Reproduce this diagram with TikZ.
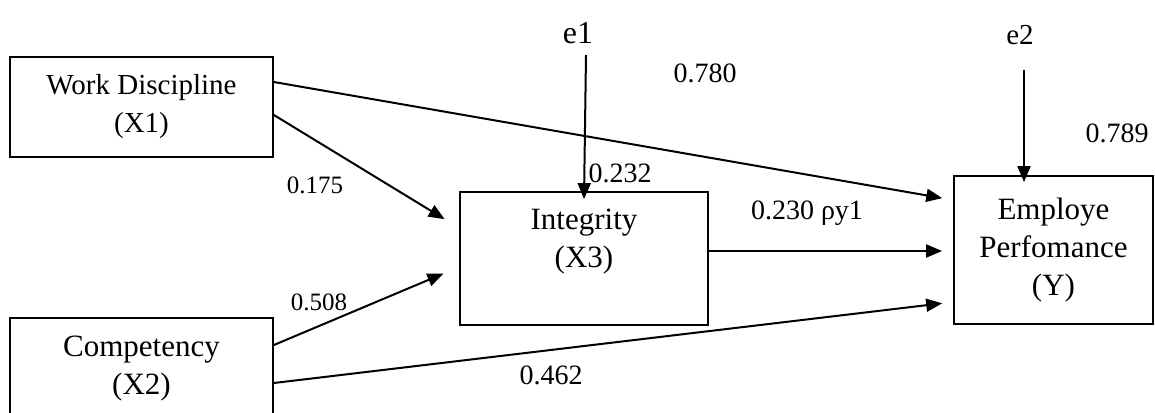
\documentclass[tikz,border=0pt]{standalone}
\usepackage{fontspec}
\setmainfont{Liberation Serif}
\usetikzlibrary{arrows.meta, positioning, calc}

\begin{document}
\begin{tikzpicture}[
  x=0.5pt, y=-0.5pt,
  box/.style={rectangle, draw, line width=0.9pt, align=center, inner sep=0pt,
              font=\fontsize{15.5}{19}\selectfont},
  arr/.style={-{Triangle[length=8pt, width=6.5pt]}, line width=1pt},
  coef/.style={inner sep=0pt, font=\fontsize{14}{17}\selectfont},
  coefsm/.style={inner sep=0pt, font=\fontsize{12.5}{15}\selectfont}
]
  \useasboundingbox (0,0) rectangle (1155,412);

  % variables
  \node[box, minimum width=131.5pt, minimum height=50pt,
        font=\fontsize{14.5}{19}\selectfont] (x1) at (141.5,107) {Work Discipline\\(X1)};
  \node[box, minimum width=131.5pt, minimum height=50.5pt] (x2) at (141.5,368.5) {Competency\\(X2)};
  \node[box, minimum width=124pt, minimum height=66.5pt] (int) at (584,258.5) {};
  \node[inner sep=0pt, align=center, font=\fontsize{15.5}{19}\selectfont] (inttxt) at (584,241.5) {Integrity\\(X3)};
  \node[box, minimum width=99.5pt, minimum height=74pt] (y) at (1053.5,250) {Employe\\Perfomance\\(Y)};

  % error terms
  \node[font=\fontsize{16}{19}\selectfont] (e1) at (578,33) {e1};
  \node[font=\fontsize{14.5}{17}\selectfont] (e2) at (1020,35) {e2};
  \coordinate (e1top) at (586,55);
  \coordinate (e2top) at (1024,70);

  % paths
  \draw[arr, shorten >=5.5pt] (x1.east |- 0,82) -- (y.west |- 0,200);
  \draw[arr, shorten >=8.5pt] (x1.east |- 0,115) -- (int.west |- 0,228);
  \draw[arr, shorten >=8.5pt] (x2.east |- 0,345) -- (int.west |- 0,267);
  \draw[arr, shorten >=5.5pt] (x2.east |- 0,383) -- (y.west |- 0,302);
  \draw[arr, shorten >=5.5pt] (int.east |- 0,251) -- (y.west |- 0,251);
  \draw[arr] (e1top) -- ([yshift=-4pt]int.north);
  \draw[arr, shorten >=-3.5pt] (e2top) -- (e2top |- y.north);

  % coefficients
  \node[coef] (c780) at (705,73) {0.780};
  \node[coef] (c789) at (1117,133) {0.789};
  \node[coef] (c232) at (620,173) {0.232};
  \node[coefsm] (c175) at (315,185) {0.175};
  \node[coefsm] (c508) at (319,302) {0.508};
  \node[coef] (c462) at (551,375) {0.462};
  \node[coef] (c230) at (807,213) {0.230 ρy1};
\end{tikzpicture}
\end{document}
